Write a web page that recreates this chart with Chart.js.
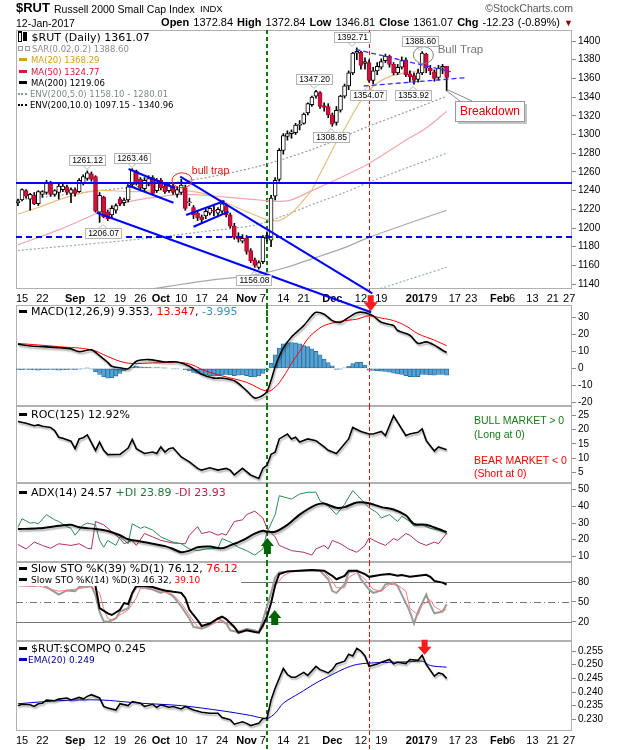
<!DOCTYPE html>
<html>
<head>
<meta charset="utf-8">
<title>$RUT Russell 2000 Small Cap Index</title>
<script src="https://cdn.jsdelivr.net/npm/chart.js@4.4.1/dist/chart.umd.min.js"></script>
<style>
  body { margin: 0; background: #fff; }
  #page { position: relative; width: 620px; height: 750px; overflow: hidden; font-family: 'Liberation Sans', Arial, sans-serif; color: #000; }
  #page canvas { position: absolute; left: 0; }
  .t { position: absolute; white-space: nowrap; line-height: 12px; z-index: 6; }
  .lg { position: absolute; left: 17px; background: #fff; white-space: nowrap; font-family: 'DejaVu Sans', Verdana, sans-serif; font-size: 11px; line-height: 11px; padding: 0 3px 0 1px; z-index: 5; }
  .sm { font-size: 8.5px; line-height: 11.3px; }
  .mk { display: inline-block; width: 8px; height: 3px; background: #000; vertical-align: middle; margin: 0 4px 2px 1px; }
  .dt { display: inline-block; width: 9px; border-top: 2px dotted #000; vertical-align: middle; margin: 0 3px 2px 0; }
  .sq { display: inline-block; width: 3px; height: 3px; border: 1px solid #999; vertical-align: middle; margin: 0 2px 2px 0; }
  .ci { display: inline-block; width: 2px; height: 8px; border: 1px solid #000; border-top-width: 2px; vertical-align: middle; margin: 0 1px 2px 0; }
</style>
</head>
<body>
<div id="page">
  <div class="t" style="left:16px;top:2px;font-size:13px;font-weight:bold">$RUT</div>
  <div class="t" style="left:54px;top:3px;font-size:10.5px">Russell 2000 Small Cap Index</div>
  <div class="t" style="left:200px;top:3px;font-size:9.5px">INDX</div>
  <div class="t" style="right:47px;top:2px;font-size:10.5px;color:#555">&copy;StockCharts.com</div>
  <div class="t" style="left:16px;top:17px;font-size:10.5px">12-Jan-2017</div>
  <div class="t" style="right:47px;top:16px;font-size:11px;word-spacing:1px"><b>Open</b> 1372.84 <b>High</b> 1372.84 <b>Low</b> 1346.81 <b>Close</b> 1361.07 <b>Chg</b> -12.23 (-0.89%) <span style="color:#8b0000;font-size:9px">&#9660;</span></div>

  <div class="lg" style="top:31px">
    <div style="line-height:9px"><span class="ci"></span><span class="ci" style="height:6px;background:#000"></span> $RUT (Daily) 1361.07</div>
    <div class="sm" style="color:#8c8c8c"><span class="sq"></span><span class="sq"></span>SAR(0.02,0.2) 1388.60</div>
    <div class="sm" style="color:#d4a017"><span class="mk" style="background:#d4a017"></span>MA(20) 1368.29</div>
    <div class="sm" style="color:#dc143c"><span class="mk" style="background:#dc143c"></span>MA(50) 1324.77</div>
    <div class="sm"><span class="mk"></span>MA(200) 1219.06</div>
    <div class="sm" style="color:#7d8b8b"><span class="dt" style="border-color:#8c9a9a"></span>ENV(200,5.0) 1158.10 - 1280.01</div>
    <div class="sm"><span class="dt"></span>ENV(200,10.0) 1097.15 - 1340.96</div>
  </div>
  <div class="lg" style="top:306px"><span class="mk"></span>MACD(12,26,9) 9.353, <span style="color:#f00">13.347</span>, <span style="color:#3d8fc4">-3.995</span></div>
  <div class="lg" style="top:409px"><span class="mk"></span>ROC(125) 12.92%</div>
  <div class="lg" style="top:487px"><span class="mk"></span>ADX(14) 24.57 <span style="color:#1f7a3a">+DI 23.89</span> <span style="color:#b8234a">-DI 23.93</span></div>
  <div class="lg" style="top:563px">
    <div style="line-height:12px"><span class="mk"></span>Slow STO %K(39) %D(1) 76.12, <span style="color:#f00">76.12</span></div>
    <div style="font-size:9px;line-height:11px"><span class="mk"></span>Slow STO %K(14) %D(3) 46.32, <span style="color:#f00">39.10</span></div>
  </div>
  <div class="lg" style="top:643px">
    <div style="line-height:12px"><span class="mk"></span>$RUT:$COMPQ 0.245</div>
    <div style="font-size:9px;line-height:11px;color:#00008b"><span class="mk" style="background:#0000cd;margin-right:1px"></span>EMA(20) 0.249</div>
  </div>

  <div class="t" style="left:474px;top:414px;font-size:10.5px;color:#1a7a1a">BULL MARKET &gt; 0</div>
  <div class="t" style="left:474px;top:428px;font-size:10.5px;color:#1a7a1a">(Long at 0)</div>
  <div class="t" style="left:474px;top:454px;font-size:10.5px;color:#f00">BEAR MARKET &lt; 0</div>
  <div class="t" style="left:474px;top:467px;font-size:10.5px;color:#f00">(Short at 0)</div>
</div>

<script>
const FONT = "'Liberation Sans', Arial, sans-serif";
Chart.defaults.font.family = FONT;

// trading days on the time axis; x value = index in this list (data stops at 1/12)
const days = ['8/12','8/15','8/16','8/17','8/18','8/19','8/22','8/23','8/24','8/25','8/26','8/29','8/30','8/31',
  '9/1','9/2','9/6','9/7','9/8','9/9','9/12','9/13','9/14','9/15','9/16','9/19','9/20','9/21','9/22','9/23','9/26','9/27','9/28','9/29','9/30',
  '10/3','10/4','10/5','10/6','10/7','10/10','10/11','10/12','10/13','10/14','10/17','10/18','10/19','10/20','10/21','10/24','10/25','10/26','10/27','10/28','10/31',
  '11/1','11/2','11/3','11/4','11/7','11/8','11/9','11/10','11/11','11/14','11/15','11/16','11/17','11/18','11/21','11/22','11/23','11/25','11/28','11/29','11/30',
  '12/1','12/2','12/5','12/6','12/7','12/8','12/9','12/12','12/13','12/14','12/15','12/16','12/19','12/20','12/21','12/22','12/23','12/27','12/28','12/29','12/30',
  '1/3','1/4','1/5','1/6','1/9','1/10','1/11','1/12','1/13','1/17','1/18','1/19','1/20','1/23','1/24','1/25','1/26','1/27','1/30','1/31',
  '2/1','2/2','2/3','2/6','2/7','2/8','2/9','2/10','2/13','2/14','2/15','2/16','2/17','2/21','2/22','2/23','2/24','2/27','2/28'];

const xTickDays = [['8/15','15'],['8/22','22'],['9/1','Sep'],['9/12','12'],['9/19','19'],['9/26','26'],['10/3','Oct'],['10/10','10'],
  ['10/17','17'],['10/24','24'],['11/1','Nov'],['11/7','7'],['11/14','14'],['11/21','21'],['12/1','Dec'],['12/12','12'],['12/19','19'],
  ['1/3','2017'],['1/9','9'],['1/17','17'],['1/23','23'],['2/1','Feb'],['2/6','6'],['2/13','13'],['2/21','21'],['2/27','27']];
const boldTicks = ['Sep','Oct','Nov','Dec','2017','Feb'];

// $RUT daily candles
const open = [1227,1230,1240,1231,1235,1226,1236,1238,1247,1236,
  1238,1241,1244,1237,1241,1239,1248,1253,1258,1255,
  1217,1233,1217,1214,1219,1231,1227,1230,1246,1261,
  1252,1242,1247,1254,1240,1251,1245,1240,1245,1236,
  1238,1243,1227,1222,1216,1212,1213,1216,1219,1216,
  1218,1224,1214,1202,1191,1186,1189,1176,1166,1158,
  1164,1189,1187,1234,1252,1283,1298,1301,1302,1310,
  1312,1323,1332,1341,1345,1331,1330,1321,1313,1326,
  1341,1352,1366,1387,1388,1376,1377,1358,1368,1372,
  1379,1384,1375,1366,1372,1380,1365,1363,1359,1366,
  1386,1371,1367,1361,1371,1372.84];
const high = [1231,1242,1241,1237,1238,1240,1240,1251,1250,1241,
  1248,1248,1246,1243,1243,1253,1257,1261.12,1260,1256,
  1238,1234,1219,1224,1226,1233,1232,1246,1263.46,1262,
  1254,1254,1256,1256,1253,1253,1247,1248,1247,1244,
  1252,1246,1232,1224,1218,1214,1220,1222,1224,1222,
  1229,1226,1216,1205,1195,1193,1192,1178,1168,1165,
  1192,1196,1235,1254,1285,1301,1304,1305,1312,1315,
  1323,1334,1341,1347.2,1346,1334,1333,1323,1330,1342,
  1354,1368,1388,1392.71,1389,1382,1380,1372,1377,1381,
  1386,1385,1377,1375,1383,1382,1368,1366,1370,1388.6,
  1387,1374,1369,1374,1375,1372.84];
const low = [1224,1229,1232,1219,1225,1224,1233,1236,1234,1234,
  1231,1239,1236,1227,1234,1238,1246,1251,1250,1217,
  1206.07,1211,1208,1210,1216,1224,1224,1228,1244,1246,
  1240,1240,1245,1236,1238,1241,1237,1238,1236,1233,
  1236,1219,1224,1210,1208,1205,1210,1214,1213,1212,
  1216,1212,1200,1188,1185,1184,1172,1163,1158,1156.08,
  1162,1186,1180,1230,1250,1279,1294,1296,1300,1305,
  1311,1321,1330,1339,1328,1325,1318,1308.85,1310,1324,
  1339,1348,1364,1380,1370,1370,1356,1354.07,1364,1370,
  1377,1372,1364,1364,1370,1362,1356,1353.92,1356,1364,
  1366,1364,1357,1358,1365,1346.81];
const close = [1229,1241,1234,1236,1226,1239,1239,1249,1236,1240,
  1245,1245,1238,1241,1237,1251,1255,1259,1252,1218,
  1235,1212,1210,1221,1224,1226,1230,1244,1262,1248,
  1243,1251,1253,1237,1251,1243,1239,1246,1238,1241,
  1246,1221,1228,1214,1211,1209,1218,1221,1218,1220,
  1226,1214,1202,1190,1188,1189,1175,1165,1160,1163,
  1190,1192,1232,1251,1283,1299,1301,1303,1310,1311,
  1322,1333,1340,1346,1330,1329,1321,1311,1326,1341,
  1352,1366,1387,1389,1374,1378,1358,1368,1373,1378,
  1384,1375,1366,1372,1379,1364,1362,1358,1366,1387,
  1371,1368,1360,1371,1373,1361.07];

// price overlays, [day index, value]
const ma20 = [[0,1215],[5,1222],[12,1233],[19,1240],[28,1239],[34,1240],[41,1240],[47,1235],[53,1223],[58,1214],[61,1209],[64,1208],
  [67,1216],[70,1230],[72,1241],[74,1258],[76,1275],[78,1292],[80,1306],[82,1322],[84,1336],[86,1347],[88,1355],[91,1362],[95,1366],[100,1369],[105,1368.29]];
const ma50 = [[0,1182],[10,1198],[19,1215],[27,1228],[34,1233],[41,1236],[51,1233],[59,1230],[66,1229],[72,1240],[80,1256],[86,1269],[95,1294],[100,1307],[105,1324.77]];
const ma200 = [[33,1135],[45,1143],[58,1150],[65,1157],[72,1167],[80,1179],[86,1190],[95,1204],[105,1219.06]];
const env5Up = [[0,1176],[15,1182],[34,1190],[45,1196],[58,1203],[65,1213],[72,1225],[80,1238],[86,1249],[95,1264],[105,1280.01]];
const env5Lo = [[84,1130],[90,1137],[95,1144],[100,1151],[105,1158.10]];
const env10Up = [[0,1230],[20,1240],[42,1251],[58,1265],[72,1284],[86,1309],[95,1324],[105,1340.96]];

// MACD(12,26,9)
const macd = [[0,14.3],[3,13.2],[6,12.8],[10,12.2],[13,11.5],[15,9.9],[18,10.9],[20,7.5],[22,3.5],[23,1.3],[25,0.4],[27,-0.2],[29,4.2],[32,5.2],
  [36,3.8],[39,3.8],[42,1.3],[45,-3.4],[48,-5.7],[50,-5.7],[53,-7.3],[56,-13],[58,-17.4],[60,-15.8],[61,-13.5],[62,-7],[63,1],[64,7],[65,12],
  [67,18.5],[70,25.2],[72,31],[73,33],[75,31.9],[77,28.1],[79,27.1],[81,30],[83,32.8],[85,32.8],[87,30.9],[89,27.1],[92,25.2],[93,22.3],
  [96,19.5],[98,14.7],[100,15.6],[102,13.7],[104,10.7],[105,9.353]];
const macdSignal = [[0,14.7],[10,12.8],[18,10.9],[22,7],[25,4.2],[28,2.9],[33,3.2],[41,3.2],[46,-1.5],[50,-4.4],[56,-8.2],[61,-13.4],[63,-11],
  [65,-5],[67,3],[69,10],[71,17.5],[73,22],[75,25.2],[79,27.7],[83,29],[86,30.9],[89,29.6],[92,28.1],[95,25],[98,20.4],[102,16.6],[105,13.347]];
const macdHist = [-0.8,-0.7,-0.6,-0.8,-0.9,-1.0,-0.8,-0.7,-0.6,-0.9,-1.1,-0.9,-0.7,-0.6,-0.8,-0.5,-0.2,0.1,-0.4,
  -2.0,-3.5,-5.0,-5.8,-5.5,-4.5,-3.0,-1.5,-0.5,
  0.8,1.2,1.0,0.8,0.6,0.4,0.5,0.3,0.1,0.0,-0.2,-0.3,0.0,
  -0.8,-1.5,-2.3,-3.0,-3.6,-4.0,-4.3,-4.5,-4.3,-3.8,-3.6,-3.8,-4.2,-4.0,-3.8,-4.2,-4.8,-5.0,-4.4,-3.0,-1.0,
  3.0,8.0,12.0,14.5,15.0,15.2,15.0,14.5,13.5,12.8,11.5,10.0,8.0,5.5,3.5,1.5,-0.6,-0.5,0.4,1.3,2.8,3.8,3.6,2.0,-1.0,
  -1.2,-1.5,-1.6,-1.8,-2.2,-2.8,-3.3,-3.5,-4.2,-4.8,-5.0,-4.8,-3.6,-3.5,-3.8,-4.0,-3.5,-3.6,-3.995];

// ROC(125)
const roc = [[0,22.8],[2,22.2],[4,21.3],[5,21.6],[6,21.1],[8,20.7],[9,19.6],[10,17.3],[11,16.9],[13,15.9],[14,13.3],[15,16.7],[16,17.1],
  [17,18.1],[19,12.7],[20,15.6],[21,12.7],[22,11.2],[25,11.3],[27,13.5],[28,16.5],[29,13.3],[31,11.6],[33,12.1],[34,11.6],[35,13.9],[36,12.1],
  [37,13.3],[38,13.6],[40,10.4],[42,8.7],[44,6.4],[45,5.8],[47,6.6],[49,5.8],[51,6.4],[52,5.8],[53,4.1],[55,6.4],[57,4.1],[59,2.9],[60,6.4],
  [61,7.5],[62,11.3],[63,12.1],[64,16.7],[66,18.4],[67,16.7],[68,17.3],[69,15.6],[71,16.7],[73,16.1],[75,13.9],[76,12.7],[78,11.6],[79,13.3],
  [81,16.7],[82,20.7],[84,19.3],[86,18.4],[87,18.4],[89,19.3],[90,17.9],[92,24.8],[93,22.5],[95,17.9],[96,18.4],[98,19.0],[99,20.2],[100,16.1],
  [102,12.5],[103,13.9],[105,12.92]];

// ADX(14), +DI, -DI
const adx = [[0,26.4],[5,26.8],[10,28.3],[13,28.9],[15,27.4],[19,26.4],[22,25.2],[25,22.7],[27,20.3],[30,19],[33,17.6],[36,16.2],[38,14.5],
  [40,12.5],[42,13.5],[44,15.5],[47,15.9],[50,14.9],[52,16.6],[55,19.6],[58,23.7],[60,25.4],[61,24.8],[63,24.8],[66,28.9],[69,35],[73,40.8],
  [75,41.6],[78,39.1],[80,39.5],[83,42.2],[86,41.8],[89,39.5],[92,38.1],[95,34.6],[97,29.5],[100,28.9],[103,26.4],[105,24.57]];
const plusDI = [[0,27.4],[1,32.6],[3,29.9],[4,30.3],[5,29.5],[7,35],[9,31.9],[10,30.9],[12,27.8],[13,26.8],[14,22.7],[16,28.9],[17,29.9],
  [19,28.9],[20,19.6],[21,15.5],[22,19.6],[24,16.6],[25,21.7],[27,17.6],[28,29.5],[30,26.8],[31,27.8],[33,25.8],[35,21.7],[37,19.6],[38,18.6],
  [40,17.6],[42,14.5],[44,13.5],[46,14.5],[49,14.9],[50,20.7],[52,18.6],[54,15.5],[56,13.5],[58,10.8],[60,14.5],[61,24.4],[63,35],[64,46.3],
  [67,44.3],[69,47.3],[71,48.4],[73,48.4],[74,43.2],[76,40.2],[78,35],[80,41.2],[82,49.4],[84,44.3],[86,39.1],[88,36.1],[89,33],[91,35],
  [93,30.9],[94,34],[96,30.9],[97,28.3],[99,28.9],[101,26.8],[103,25.8],[105,23.89]];
const minusDI = [[0,17.2],[2,14.5],[4,18.6],[6,16.6],[8,14.9],[10,17.6],[13,16.6],[15,17.6],[17,14.9],[18,14.5],[19,30.9],[21,28.9],
  [23,24.8],[25,20.7],[26,17.6],[28,19.6],[29,16.6],[31,23.7],[33,21.7],[35,19.6],[38,18],[41,17.6],[42,22.7],[44,27.8],[45,23.7],[47,24.8],
  [49,22.7],[50,23.7],[51,22.7],[53,30.9],[55,31.9],[56,35],[58,37.1],[60,33],[61,26.8],[63,21.7],[64,16.6],[67,13.5],[70,12.5],[72,10.8],
  [73,14.5],[75,16.6],[76,14.5],[77,19.6],[79,17.6],[81,14.5],[83,12.5],[85,16.6],[86,21.1],[88,18.6],[90,16.6],[92,20.7],[93,19.6],
  [95,23.7],[96,22.7],[98,18.6],[100,16.6],[102,18.6],[103,17.6],[105,23.93]];

// Slow stochastics
const stoK39 = [[0,85],[4,82],[8,88],[12,86],[16,92],[18,90],[19,73.8],[20,40.5],[22,32.8],[23,30.3],[25,38],[26,48.2],[27,46.7],[28,63.6],
  [29,73.8],[31,73.8],[33,72.3],[35,68.7],[36,67.2],[38,65.1],[40,63.6],[41,55.9],[42,38],[44,22.6],[45,13.8],[47,17.4],[49,25.1],[50,27.7],
  [51,24.1],[53,12.3],[54,3.6],[56,7.2],[58,4.6],[59,3.6],[60,14.9],[61,27.7],[62,48.2],[63,75],[64,92],[66,95.9],[69,96.9],[72,97.9],
  [75,96.9],[77,89.2],[78,84.1],[80,89.2],[81,96.9],[83,96.9],[85,91.8],[86,87.7],[89,90.8],[91,91.8],[93,89.2],[94,90.3],[96,87.7],
  [98,89.2],[100,90.8],[101,87.7],[102,81.5],[104,79],[105,76.12]];
const stoK14 = [[0,75.4],[4,73.8],[6,76.4],[10,61],[12,67.2],[14,66.2],[15,72.3],[18,73.8],[19,60],[20,35],[21,21],[22,20],[24,25.1],
  [25,35.4],[27,40.5],[28,61],[29,72.3],[31,71.3],[33,68.7],[35,63.6],[36,66.2],[38,58.5],[40,43.1],[42,25.1],[43,12.3],[45,9.7],[46,12.3],
  [48,20],[49,25.1],[51,17.4],[52,7.2],[54,4.6],[56,9.7],[58,7.2],[59,4.6],[60,22.6],[62,63.6],[63,86.7],[64,94.4],[66,95.4],[69,96.9],
  [72,97.9],[74,96.9],[76,84.1],[77,66.2],[78,63.6],[80,76.4],[81,94.4],[83,96.9],[84,84.1],[86,68.7],[87,63.6],[89,67.2],[90,76.4],
  [92,79],[93,73.8],[94,61],[96,35.4],[97,17.4],[98,35.4],[100,61],[101,45.6],[102,32.8],[104,35.4],[105,46.32]];
const stoD3 = [[0,74],[5,74],[10,66],[15,70],[18,73],[20,63.6],[21,40],[22,25.1],[23,22.6],[25,30.3],[27,38],[29,55.9],[30,70.3],[33,71.3],
  [35,66.2],[38,61],[40,48.2],[42,30.3],[44,12.3],[46,10.8],[48,17.4],[50,22.6],[52,14.9],[54,7.2],[56,7.2],[59,4.6],[60,10],[61,30],
  [62,50],[63,73.8],[65,89.2],[67,95.4],[72,96.9],[75,95.4],[77,81.5],[78,71.3],[80,71.3],[81,86.7],[83,94.4],[85,84.1],[87,68.7],[89,66.2],
  [91,76.4],[93,75.4],[95,66.2],[96,40.5],[98,30.3],[99,45.6],[101,53.3],[102,43.1],[104,35.4],[105,39.1]];
const stoLevels = [[80, []], [50, [7, 3, 1, 3]], [20, []]];

// $RUT:$COMPQ ratio and its EMA(20)
const ratio = [[0,.2350],[1,.2355],[3,.2353],[4,.2347],[5,.2357],[6,.2359],[7,.2370],[9,.2368],[10,.2374],[12,.2378],[13,.2371],[15,.2380],
  [16,.2375],[17,.2384],[18,.2390],[20,.2378],[21,.2347],[22,.2341],[24,.2334],[25,.2357],[27,.2350],[28,.2365],[30,.2359],[31,.2347],
  [33,.2355],[34,.2344],[35,.2353],[37,.2344],[38,.2347],[40,.2338],[41,.2347],[43,.2334],[45,.2326],[47,.2322],[49,.2322],[50,.2306],
  [52,.2298],[53,.2282],[55,.2291],[56,.2285],[57,.2277],[59,.2285],[60,.2303],[61,.2303],[62,.2371],[63,.2414],[65,.2486],[66,.2464],
  [67,.2454],[68,.2454],[70,.2472],[71,.2461],[73,.2494],[74,.2482],[76,.2470],[77,.2482],[78,.2503],[80,.2513],[81,.2538],[82,.2532],
  [83,.2560],[84,.2550],[85,.2532],[86,.2494],[88,.2503],[89,.2509],[91,.2519],[92,.2503],[93,.2509],[95,.2504],[96,.2519],[98,.2516],
  [99,.2535],[100,.2501],[102,.2458],[103,.2470],[104,.2466],[105,.2450]];
const ratioEma = [[0,.2357],[10,.2368],[20,.2371],[30,.2359],[40,.2350],[50,.2331],[57,.2314],[61,.2303],[63,.2322],[65,.2359],[69,.2396],
  [73,.2433],[77,.2464],[80,.2486],[83,.2501],[86,.2506],[91,.2509],[96,.2511],[99,.2513],[101,.2497],[105,.2491]];

// axis ticks
const priceTicks = [1400,1380,1360,1340,1320,1300,1280,1260,1240,1220,1200,1180,1160,1140];
const macdTicks = [30,20,10,0,-10,-20];
const rocTicks = [25,20,15,10,5];
const adxTicks = [50,40,30,20,10];
const stoTicks = [80,50,20];
const ratioTicks = [0.255,0.250,0.245,0.240,0.235,0.230];

// chart notes: [day index, price]
const levelLines = [[1248, []], [1190, [6, 4]]];
const trendLines = [[27.1,1263.1,38.5,1242.5],[26.7,1246,38.1,1227],[39.76,1254.9,86.8,1130.2],
  [41.2,1213.9,50.6,1228.9],[43,1201.4,51.6,1217.5],[19.3,1216.4,86.5,1110]];
const wedgeLines = [[82.7,1391.1,106,1367.2],[84.7,1351.9,109.7,1360.8]];
const priceTags = [[17,1261.12,'up'],[28,1263.46,'up'],[20.8,1206.07,'dn'],[57.7,1156.08,'dn'],[72.6,1347.20,'up'],
  [76.6,1308.85,'dn'],[81.7,1392.71,'up'],[85.7,1354.07,'dn'],[96.8,1353.92,'dn'],[98.4,1388.60,'up']];
const eventLines = [['11/8', '#0c7a0c', 2, [4, 3]], ['12/14', '#ff0000', 1, [4, 3]]];

const pts = a => a.map(([i, v]) => ({ x: i, y: v }));
const tickIdx = xTickDays.map(d => days.indexOf(d[0]));
const tickText = v => { const k = tickIdx.indexOf(v); return k < 0 ? '' : xTickDays[k][1]; };
const X_MIN = -0.47, X_MAX = 135.7;

function xAxis(show, h) {
  return {
    type: 'linear', min: X_MIN, max: X_MAX, offset: false, display: show,
    grid: { display: false, drawTicks: false }, border: { display: false },
    afterBuildTicks: s => { s.ticks = tickIdx.map(v => ({ value: v })); },
    afterFit: s => { s.height = h; s.paddingLeft = 0; s.paddingRight = 0; },
    ticks: {
      autoSkip: false, maxRotation: 0, padding: 3, color: '#000',
      font: c => ({ family: FONT, size: 11, weight: c.tick && boldTicks.includes(tickText(c.tick.value)) ? 'bold' : 'normal' }),
      callback: v => tickText(v)
    }
  };
}

function yAxis(min, max, ticks, fmt) {
  return {
    position: 'right', min, max,
    afterBuildTicks: s => { s.ticks = ticks.map(v => ({ value: v })); },
    afterFit: s => { s.width = 48; s.paddingTop = 0; s.paddingBottom = 0; },
    grid: { drawOnChartArea: false, drawTicks: true, tickLength: 4, color: '#888' },
    border: { display: false },
    ticks: { padding: 2, color: '#000', font: { family: FONT, size: 10 }, callback: fmt || (v => v) }
  };
}

function options(padTop, xShow, xHeight, y) {
  return {
    responsive: false, animation: false, events: [],
    layout: { padding: { left: 16, right: 0, top: padTop, bottom: 0 } },
    plugins: { legend: { display: false }, tooltip: { enabled: false } },
    scales: { x: xAxis(xShow, xHeight), y }
  };
}

function line(data, color, width, extra) {
  return Object.assign({ type: 'line', data: pts(data), borderColor: color, borderWidth: width,
    pointRadius: 0, tension: 0, fill: false, order: 3 }, extra || {});
}

function panel(top, height, z) {
  const c = document.createElement('canvas');
  c.width = 620; c.height = height;
  c.style.top = top + 'px'; c.style.zIndex = z;
  document.getElementById('page').appendChild(c);
  return c;
}

// soft drop shadow under the main indicator lines
Chart.register({
  id: 'shadow',
  beforeDatasetDraw(chart, args) {
    if (!chart.data.datasets[args.index].shadow) return;
    const c = chart.ctx;
    c.save();
    c.shadowColor = 'rgba(0,0,0,0.3)'; c.shadowOffsetX = 1; c.shadowOffsetY = 2; c.shadowBlur = 1.5;
  },
  afterDatasetDraw(chart, args) {
    if (chart.data.datasets[args.index].shadow) chart.ctx.restore();
  }
});

function arrow(ctx, cx, tipY, dir, color, len, headW, shaftW, headL) {
  const d = dir === 'down' ? -1 : 1;
  ctx.fillStyle = color;
  ctx.beginPath();
  ctx.moveTo(cx, tipY);
  ctx.lineTo(cx + headW / 2, tipY + d * headL);
  ctx.lineTo(cx + shaftW / 2, tipY + d * headL);
  ctx.lineTo(cx + shaftW / 2, tipY + d * len);
  ctx.lineTo(cx - shaftW / 2, tipY + d * len);
  ctx.lineTo(cx - shaftW / 2, tipY + d * headL);
  ctx.lineTo(cx - headW / 2, tipY + d * headL);
  ctx.closePath();
  ctx.fill();
}

// frame, reference levels, event lines and per-panel notes
function deco(o) {
  return {
    id: 'deco',
    beforeDatasetsDraw(chart) {
      const { ctx, chartArea: a, scales: { x, y } } = chart;
      ctx.save();
      ctx.lineWidth = 1; ctx.strokeStyle = '#b0b0b0'; ctx.setLineDash([]);
      ctx.strokeRect(a.left + 0.5, a.top + 0.5, a.right - a.left - 1, a.bottom - a.top - 1);
      (o.levels || []).forEach(([v, dash]) => {
        const py = Math.round(y.getPixelForValue(v)) + 0.5;
        ctx.strokeStyle = '#777'; ctx.setLineDash(dash);
        ctx.beginPath(); ctx.moveTo(a.left, py); ctx.lineTo(a.right, py); ctx.stroke();
      });
      const top = o.fromArea ? a.top : 0;
      eventLines.forEach(([d, col, w, dash]) => {
        const px = Math.round(x.getPixelForValue(days.indexOf(d))) + (w % 2 ? 0.5 : 0);
        ctx.strokeStyle = col; ctx.lineWidth = w; ctx.setLineDash(dash);
        ctx.beginPath(); ctx.moveTo(px, top); ctx.lineTo(px, chart.height); ctx.stroke();
      });
      ctx.restore();
    },
    afterDatasetsDraw(chart) {
      if (o.notes) { chart.ctx.save(); o.notes(chart); chart.ctx.restore(); }
    }
  };
}

function mainNotes(chart) {
  const { ctx, chartArea: a, scales: { x, y } } = chart;
  const X = i => x.getPixelForValue(i), Y = p => y.getPixelForValue(p);
  ctx.strokeStyle = '#0000ff'; ctx.lineWidth = 2;
  levelLines.forEach(([p, dash]) => {
    ctx.setLineDash(dash);
    ctx.beginPath(); ctx.moveTo(a.left, Math.round(Y(p))); ctx.lineTo(a.right, Math.round(Y(p))); ctx.stroke();
  });
  ctx.setLineDash([]);
  trendLines.forEach(([i1, p1, i2, p2]) => {
    ctx.beginPath(); ctx.moveTo(X(i1), Y(p1)); ctx.lineTo(X(i2), Y(p2)); ctx.stroke();
  });
  ctx.lineWidth = 1.3; ctx.strokeStyle = '#3030ff'; ctx.setLineDash([5, 3]);
  wedgeLines.forEach(([i1, p1, i2, p2]) => {
    ctx.beginPath(); ctx.moveTo(X(i1), Y(p1)); ctx.lineTo(X(i2), Y(p2)); ctx.stroke();
  });
  ctx.setLineDash([]); ctx.lineWidth = 1;
  // bull trap marks
  ctx.strokeStyle = '#ee2020';
  ctx.beginPath(); ctx.ellipse(X(40.2), Y(1251), 10, 7.5, 0, 0, Math.PI * 2); ctx.stroke();
  ctx.strokeStyle = '#808080';
  ctx.beginPath(); ctx.ellipse(X(99.3), Y(1385), 10, 8.5, 0, 0, Math.PI * 2); ctx.stroke();
  ctx.textBaseline = 'middle'; ctx.textAlign = 'left';
  ctx.font = '10.5px ' + FONT; ctx.fillStyle = '#e01010';
  ctx.fillText('bull trap', X(42.6), Y(1261));
  ctx.font = '11.5px ' + FONT; ctx.fillStyle = '#777';
  ctx.fillText('Bull Trap', X(102.8), Y(1390.5));
  // price tags
  ctx.font = '8.5px ' + FONT; ctx.textAlign = 'center';
  priceTags.forEach(([i, p, dir]) => {
    const cx = Math.round(X(i)), py = Y(p);
    const cy = Math.round(dir === 'up' ? py - 11 : py + 11);
    const txt = p.toFixed(2);
    const w = Math.round(ctx.measureText(txt).width + 5), h = 10;
    const bx = cx - Math.round(w / 2), by = cy - h / 2;
    ctx.fillStyle = '#fff'; ctx.fillRect(bx, by, w, h);
    ctx.strokeStyle = '#b4b4b4'; ctx.strokeRect(bx + 0.5, by + 0.5, w, h);
    const ey = dir === 'up' ? by + h + 0.5 : by + 0.5, tip = dir === 'up' ? ey + 4 : ey - 4;
    ctx.beginPath(); ctx.moveTo(cx - 4, ey); ctx.lineTo(cx, tip); ctx.lineTo(cx + 4, ey); ctx.stroke();
    ctx.fillStyle = '#000'; ctx.fillText(txt, cx + 0.5, cy + 1);
  });
  // breakdown callout
  const ax = X(105), ay = Y(1346.81);
  const bx = Math.round(ax + 8), by = Math.round(ay + 10);
  ctx.strokeStyle = '#8a8a8a';
  ctx.beginPath(); ctx.moveTo(ax, ay); ctx.lineTo(bx + 5, by); ctx.moveTo(ax + 1, ay - 1); ctx.lineTo(bx + 17, by); ctx.stroke();
  ctx.fillStyle = '#c4c4c4'; ctx.fillRect(bx + 3, by + 3, 69, 20);
  ctx.fillStyle = '#fff'; ctx.fillRect(bx, by, 69, 20);
  ctx.strokeStyle = '#999'; ctx.strokeRect(bx + 0.5, by + 0.5, 69, 20);
  ctx.font = '12px ' + FONT; ctx.fillStyle = '#e00000';
  ctx.fillText('Breakdown', bx + 35, by + 11);
  // sell arrow at the Dec 14 line
  arrow(ctx, X(86.4), Y(1111), 'down', '#ff1a1a', 16, 14, 6, 9);
}

// main price panel
const up = close.map((c, i) => c >= open[i]);
new Chart(panel(20, 300, 3), {
  type: 'bar',
  data: {
    datasets: [
      { type: 'bar', order: 0, grouped: false, barThickness: 4, borderWidth: 1, borderSkipped: false,
        data: open.map((o, i) => ({ x: i, y: [o, close[i]] })),
        backgroundColor: up.map(u => u ? '#ffffff' : '#d4103c'), borderColor: up.map(u => u ? '#000000' : '#a8062c') },
      { type: 'bar', order: 1, grouped: false, barThickness: 1, backgroundColor: '#000',
        data: low.map((l, i) => ({ x: i, y: [l, high[i]] })) },
      line(ma20, '#e8bf80', 1.2, { tension: 0.3 }),
      line(ma50, '#f2a6ae', 1.2, { tension: 0.3 }),
      line(ma200, '#a8a8a8', 1.2, { tension: 0.3 }),
      line(env5Up, '#9aaab0', 1.2, { tension: 0.3, borderDash: [2, 2] }),
      line(env5Lo, '#9aaab0', 1.2, { tension: 0.3, borderDash: [2, 2] }),
      line(env10Up, '#9a9a9a', 1.2, { tension: 0.3, borderDash: [2, 2] })
    ]
  },
  options: options(10, true, 31, yAxis(1134.8, 1411.8, priceTicks)),
  plugins: [deco({ fromArea: true, notes: mainNotes })]
});

// MACD
new Chart(panel(305, 101, 2), {
  type: 'bar',
  data: {
    datasets: [
      line(macd, '#000', 1.6, { order: 0, shadow: true, tension: 0.3 }),
      line(macdSignal, '#ff0000', 1, { order: 1, tension: 0.4 }),
      { type: 'bar', order: 2, grouped: false, barThickness: 4, borderWidth: 0.8, borderSkipped: false,
        backgroundColor: '#55a3d4', borderColor: '#2b6f9c', data: macdHist.map((v, i) => ({ x: i, y: v })) }
    ]
  },
  options: options(0, false, 0, yAxis(-22.1, 37.3, macdTicks)),
  plugins: [deco({})]
});

// ROC
new Chart(panel(406, 77, 2), {
  type: 'line',
  data: { datasets: [line(roc, '#000', 1.6, { shadow: true })] },
  options: options(0, false, 0, yAxis(1.3, 28.2, rocTicks)),
  plugins: [deco({})]
});

// ADX
new Chart(panel(483, 79, 2), {
  type: 'line',
  data: { datasets: [
    line(adx, '#000', 2, { order: 0, shadow: true, tension: 0.3 }),
    line(plusDI, '#2e8b57', 1, { order: 1 }),
    line(minusDI, '#b0305a', 1, { order: 2 })
  ] },
  options: options(0, false, 0, yAxis(6.7, 53.9, adxTicks)),
  plugins: [deco({ notes: chart => {
    const { ctx, scales: { x, y } } = chart;
    arrow(ctx, x.getPixelForValue(61.1), y.getPixelForValue(21), 'up', '#006400', 16, 13, 7, 8);
  } })]
});

// Slow stochastics
new Chart(panel(562, 79, 2), {
  type: 'line',
  data: { datasets: [
    line(stoK39, '#000', 2, { order: 0 }),
    line(stoD3, '#f08080', 1, { order: 1 }),
    line(stoK14, '#9a9a9a', 2, { order: 2 })
  ] },
  options: options(0, false, 0, yAxis(-8.8, 110, stoTicks)),
  plugins: [deco({ levels: stoLevels, notes: chart => {
    const { ctx, scales: { x, y } } = chart;
    arrow(ctx, x.getPixelForValue(62.9), y.getPixelForValue(38), 'up', '#006400', 15, 13, 7, 8);
  } })]
});

// $RUT:$COMPQ
new Chart(panel(633, 117, 3), {
  type: 'line',
  data: { datasets: [
    line(ratio, '#000', 1.6, { order: 0, shadow: true }),
    line(ratioEma, '#0000cd', 1, { order: 1, tension: 0.3 })
  ] },
  options: options(8, true, 19, yAxis(0.2257, 0.2587, ratioTicks, v => v.toFixed(3))),
  plugins: [deco({ notes: chart => {
    const { ctx, scales: { x, y } } = chart;
    arrow(ctx, x.getPixelForValue(99.6), y.getPixelForValue(0.2537), 'down', '#ff1a1a', 15, 14, 6, 8);
  } })]
});
</script>
</body>
</html>
